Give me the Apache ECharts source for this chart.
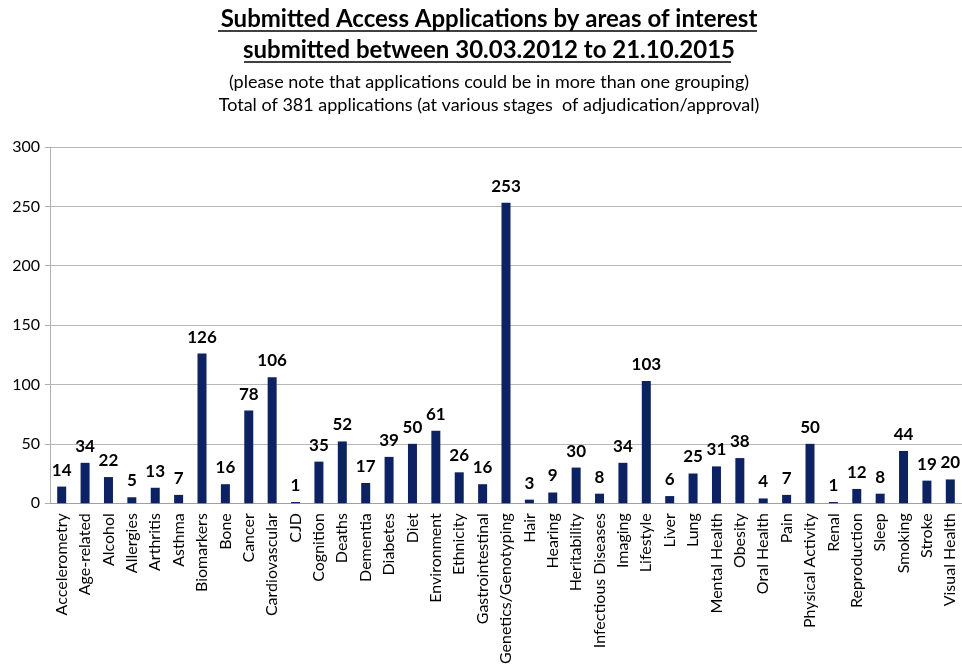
<!DOCTYPE html>
<html>
<head>
<meta charset="utf-8">
<script src="https://cdn.jsdelivr.net/npm/echarts@6/dist/echarts.min.js"></script>
<style>
  html, body { margin: 0; padding: 0; background: #fff; }
  #chart { width: 962px; height: 667px; }
</style>
</head>
<body>
<div id="chart"></div>
<script>
"use strict";

const categories = [
  "Accelerometry", "Age-related", "Alcohol", "Allergies", "Arthritis", "Asthma",
  "Biomarkers", "Bone", "Cancer", "Cardiovascular", "CJD", "Cognition", "Deaths",
  "Dementia", "Diabetes", "Diet", "Environment", "Ethnicity", "Gastrointestinal",
  "Genetics/Genotyping", "Hair", "Hearing", "Heritability", "Infectious Diseases",
  "Imaging", "Lifestyle", "Liver", "Lung", "Mental Health", "Obesity", "Oral Health",
  "Pain", "Physical Activity", "Renal", "Reproduction", "Sleep", "Smoking", "Stroke",
  "Visual Health"
];

const applications = [
  14, 34, 22, 5, 13, 7,
  126, 16, 78, 106, 1, 35, 52,
  17, 39, 50, 61, 26, 16,
  253, 3, 9, 30, 8,
  34, 103, 6, 25, 31, 38, 4,
  7, 50, 1, 12, 8, 44, 19,
  20
];

const yTicks = [0, 50, 100, 150, 200, 250, 300];

const titleLines = [
  "Submitted Access Applications by areas of interest",
  "submitted between 30.03.2012 to 21.10.2015"
];
const noteLines = [
  "(please note that applications could be in more than one grouping)",
  "Total of 381 applications (at various stages  of adjudication/approval)"
];

const font = "Lato, 'Open Sans', sans-serif";
const chart = echarts.init(document.getElementById("chart"));

// underline under the two bold title lines
let underlineStyle = { stroke: "#000", lineWidth: 1.5 };

function titleText(text, top, size, weight) {
  return {
    text: text, left: 484, top: top, textAlign: "center",
    textStyle: { fontSize: size, fontWeight: weight, color: "#000", fontFamily: font }
  };
}

chart.setOption({
  animation: false,
  textStyle: { fontFamily: font },
  title: [
    titleText(titleLines[0], 2, 24, "bold"),
    titleText(titleLines[1], 33, 24, "bold"),
    titleText(noteLines[0], 68, 18, "normal"),
    titleText(noteLines[1], 91, 18, "normal")
  ],
  graphic: [
    { type: "line", shape: { x1: 218, y1: 31, x2: 757, y2: 31 }, style: underlineStyle },
    { type: "line", shape: { x1: 244, y1: 62, x2: 731, y2: 62 }, style: underlineStyle }
  ],
  grid: { left: 50, right: 0, top: 147, bottom: 162, containLabel: false },
  xAxis: {
    type: "category",
    data: categories,
    axisLine: { lineStyle: { color: "#a0a0a0" } },
    axisTick: { show: false },
    axisLabel: {
      rotate: 90, interval: 0, fontSize: 16, color: "#000", margin: 10, fontFamily: font
    }
  },
  yAxis: {
    type: "value",
    min: yTicks[0],
    max: yTicks[yTicks.length - 1],
    interval: 50,
    axisLine: { show: true, lineStyle: { color: "#b0b0b0" } },
    axisTick: { show: true, length: 5, lineStyle: { color: "#b0b0b0" } },
    splitLine: { lineStyle: { color: "#b8b8b8" } },
    axisLabel: { fontSize: 16, color: "#000", margin: 10, fontFamily: font }
  },
  series: [{
    type: "bar",
    data: applications,
    barWidth: 9,
    itemStyle: { color: "#0c2262" },
    label: {
      show: true, position: "top", distance: 8,
      fontSize: 17, fontWeight: "bold", color: "#000", fontFamily: font
    }
  }]
});
</script>
</body>
</html>
